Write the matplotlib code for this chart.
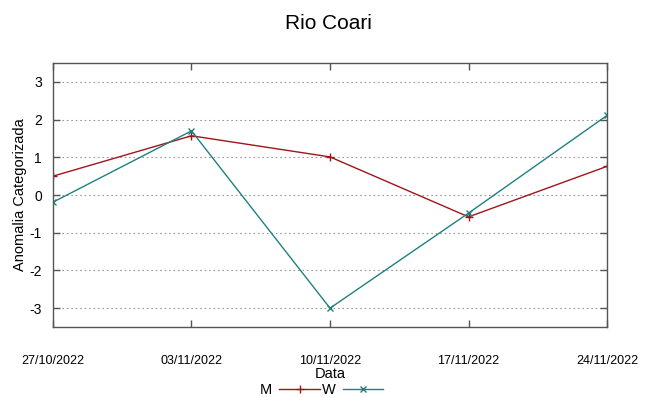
import matplotlib.pyplot as plt
from matplotlib.lines import Line2D

plt.rcParams['font.family'] = ['Liberation Sans', 'DejaVu Sans']

datas = ['27/10/2022', '03/11/2022', '10/11/2022', '17/11/2022', '24/11/2022']
m_vals = [0.50, 1.57, 1.01, -0.58, 0.76]
w_vals = [-0.19, 1.70, -3.00, -0.48, 2.11]
yticks = [-3, -2, -1, 0, 1, 2, 3]

cor_m = '#a0151c'
cor_w = '#1f8080'
borda = '#555555'

fig = plt.figure(figsize=(6.47, 3.97), dpi=100)
ax = fig.add_axes([0.0819, 0.1763, 0.8563, 0.665])

x = list(range(len(datas)))
ax.plot(x, m_vals, color=cor_m, lw=1, marker='+', ms=6, mew=1)
ax.plot(x, w_vals, color=cor_w, lw=1, marker='x', ms=5, mew=1)

ax.set_xlim(0, len(datas) - 1)
ax.set_ylim(-3.5, 3.5)
ax.set_xticks(x)
ax.set_xticklabels(datas, fontsize=9)
ax.set_yticks(yticks)
ax.set_yticklabels([str(v) for v in yticks], fontsize=10)
ax.yaxis.grid(True, ls=(0, (1.5, 2.5)), color='#999999', lw=0.8)
ax.tick_params(axis='both', direction='in', top=True, right=True, length=5, color=borda, width=1)
ax.tick_params(axis='x', pad=20)
ax.tick_params(axis='y', pad=8)
for s in ax.spines.values():
    s.set_color(borda)
    s.set_linewidth(1)

ax.set_xlabel('Data', fontsize=10.5, labelpad=0)
ax.set_ylabel('Anomalia Categorizada', fontsize=10.5, labelpad=2)
fig.suptitle('Rio Coari', fontsize=15, x=0.508, y=0.965)

handles = [Line2D([], [], color=cor_m, lw=1, marker='+', ms=6),
           Line2D([], [], color=cor_w, lw=1, marker='x', ms=5)]
fig.legend(handles, ['M', 'W'], loc='center', bbox_to_anchor=(0.497, 0.018), ncol=2,
           markerfirst=False, frameon=False, fontsize=10.5, handlelength=2.8,
           columnspacing=0.1, handletextpad=0.5, borderpad=0)

fig.savefig('out.png', dpi=100)
